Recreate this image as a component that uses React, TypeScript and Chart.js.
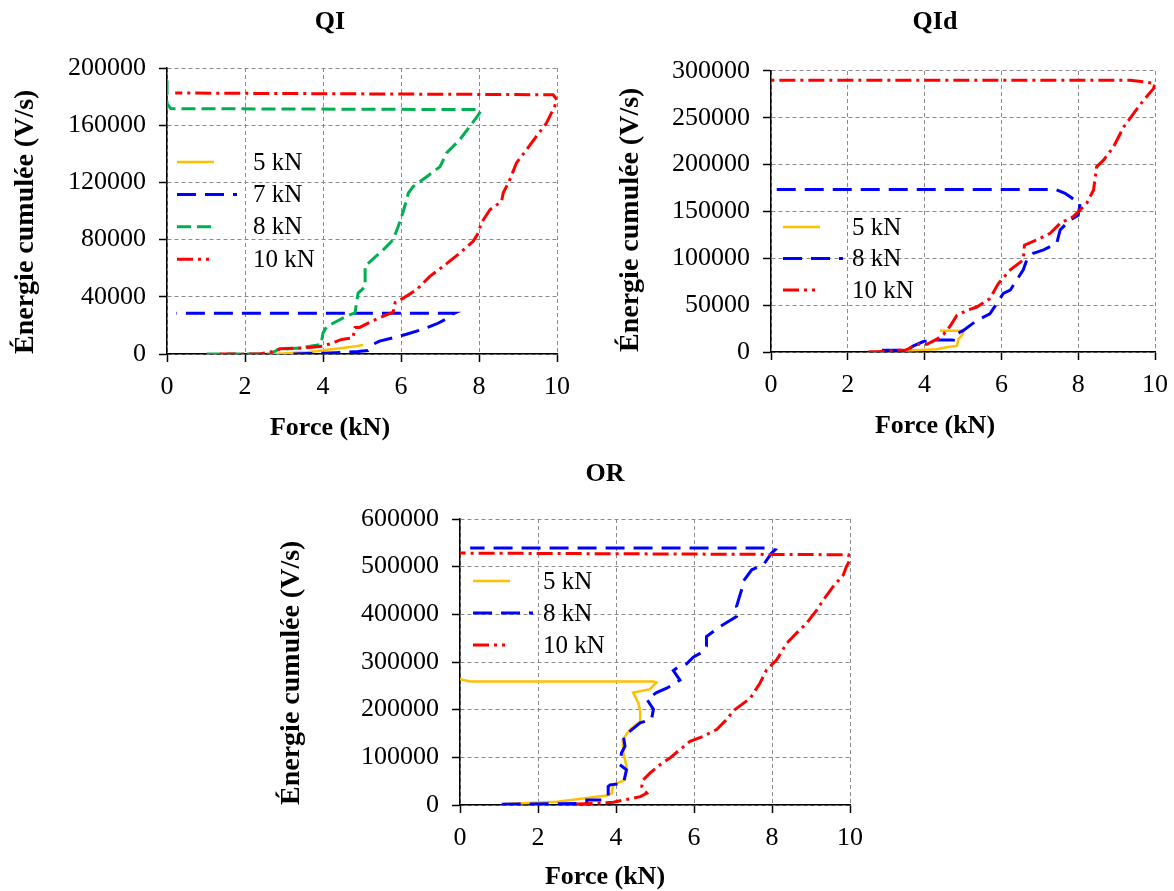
import React, { useEffect, useRef } from 'react';
import { Chart, registerables } from 'chart.js';

Chart.register(...registerables);

const FONT = "'Liberation Serif', 'Times New Roman', Times, serif";

// ---------------- Data ----------------
const xTickValues = [0, 2, 4, 6, 8, 10];
const qiYTicks = [0, 40000, 80000, 120000, 160000, 200000];
const qidYTicks = [0, 50000, 100000, 150000, 200000, 250000, 300000];
const orYTicks = [0, 100000, 200000, 300000, 400000, 500000, 600000];

const panelTitles = ['QI', 'QId', 'OR'];
const xAxisTitle = 'Force (kN)';
const yAxisTitle = 'Énergie cumulée (V/s)';

const qiLabels = ['5 kN', '7 kN', '8 kN', '10 kN'];
const qidLabels = ['5 kN', '8 kN', '10 kN'];
const orLabels = ['5 kN', '8 kN', '10 kN'];

// QI
const qi5F = [2.64, 3.0, 3.24, 3.6, 3.84, 4.1, 4.4, 4.6, 4.85, 5.03];
const qi5E = [0, 400, 800, 1300, 2000, 3000, 3800, 4500, 5500, 6300];
const qi7F = [3.24, 3.6, 4.0, 4.5, 4.9, 5.15, 5.2, 5.28, 5.45, 5.8, 6.14, 6.57, 6.91, 7.16, 7.33, 7.37, 0.24];
const qi7E = [0, 300, 600, 1200, 1800, 2400, 4000, 6700, 9000, 11400, 13800, 17400, 21000, 24500, 28000, 28500, 28500];
const qi8F = [1.02, 2.64, 2.85, 3.41, 3.95, 4.0, 4.1, 4.27, 4.52, 4.7, 4.82, 4.9, 5.0, 5.08, 5.08, 5.12, 5.55, 5.8, 5.93, 6.06, 6.19, 6.31, 6.66, 7.0, 7.17, 7.51, 7.76, 7.98, 8.04, 7.98, 0.1, 0.0, 0.0];
const qi8E = [0, 0, 3100, 4300, 6700, 14700, 19300, 21700, 25200, 27500, 28700, 42600, 45000, 47300, 61300, 62500, 73000, 80000, 89300, 99800, 112600, 117000, 124000, 131000, 140600, 150000, 159000, 167000, 169700, 170900, 171600, 175000, 194000];
const qi10F = [1.36, 2.37, 2.64, 2.9, 3.58, 4.0, 4.26, 4.48, 4.77, 4.82, 4.94, 5.28, 5.8, 5.85, 6.06, 6.4, 6.74, 7.08, 7.51, 7.85, 7.98, 8.06, 8.28, 8.58, 8.62, 8.79, 8.96, 9.22, 9.47, 9.73, 9.94, 10.0, 9.9, 0.21];
const qi10E = [0, 0, 1200, 3600, 4300, 5500, 7900, 10200, 11400, 18600, 18600, 23300, 29300, 36000, 39100, 45000, 54300, 61300, 70600, 78800, 84600, 91600, 100900, 106700, 112600, 121900, 133600, 142900, 152200, 161500, 173200, 177800, 181300, 182500];

// QId
const qid5F = [3.5, 4.32, 4.6, 4.84, 4.88, 5.0, 5.0, 4.4];
const qid5E = [1500, 2900, 5400, 6500, 13700, 19200, 22800, 22800];
const qid8F = [2.89, 3.54, 3.71, 3.97, 4.28, 4.75, 4.75, 5.0, 5.36, 5.7, 5.88, 6.05, 6.23, 6.4, 6.57, 6.66, 6.83, 7.1, 7.44, 7.53, 7.79, 8.0, 8.05, 7.96, 7.79, 7.66, 7.4, 0.0];
const qid8E = [1800, 1800, 6500, 11200, 12700, 12700, 17400, 22800, 33700, 40800, 51700, 62600, 66000, 77000, 87700, 98300, 105400, 109000, 116000, 130300, 141000, 146000, 158700, 160500, 165800, 169300, 173600, 173600];
const qid10F = [2.54, 2.76, 3.3, 3.5, 3.8, 4.06, 4.32, 4.5, 4.67, 4.84, 5.1, 5.36, 5.7, 5.92, 6.23, 6.57, 6.6, 6.92, 7.27, 7.53, 7.87, 8.05, 8.22, 8.4, 8.48, 8.66, 8.92, 9.18, 9.44, 9.7, 9.96, 10.0, 9.7, 9.35, 0.0];
const qid10E = [400, 400, 1800, 1800, 8300, 8300, 13700, 19200, 28000, 39000, 44500, 48000, 57000, 73000, 87700, 98300, 114000, 119600, 126700, 137400, 144500, 151600, 158700, 172900, 197700, 204800, 219000, 240000, 254500, 268700, 281200, 286500, 288500, 290000, 290000];

// OR
const or5F = [1.11, 2.48, 3.0, 3.76, 3.89, 3.93, 4.23, 4.27, 4.19, 4.17, 4.36, 4.62, 4.62, 4.57, 4.44, 4.87, 5.04, 4.96, 0.26, 0.0];
const or5E = [2100, 7000, 12000, 19700, 24600, 42200, 52800, 81000, 109100, 137300, 158400, 176000, 197100, 214700, 235800, 242900, 257000, 259000, 259000, 264000];
const or8F = [1.07, 3.25, 3.25, 3.68, 3.8, 3.8, 3.85, 4.19, 4.27, 4.1, 4.14, 4.23, 4.19, 4.36, 4.62, 4.91, 4.96, 4.79, 5.04, 5.3, 5.64, 5.47, 5.6, 5.81, 5.98, 6.2, 6.32, 6.32, 6.67, 7.09, 7.14, 7.09, 7.22, 7.26, 7.48, 7.78, 7.99, 8.08, 7.9, 0.26];
const or8E = [1400, 3500, 10600, 10600, 17600, 38700, 42200, 45800, 73900, 84500, 109100, 123200, 144300, 154900, 172500, 179500, 200600, 221800, 235800, 245000, 262000, 282000, 290000, 296000, 310000, 320000, 332500, 353500, 374500, 395500, 409500, 416500, 451500, 469000, 493500, 504000, 528500, 535500, 539000, 539000];
const or10F = [2.99, 3.5, 3.93, 4.19, 4.44, 4.62, 4.79, 4.66, 4.7, 4.87, 5.13, 5.38, 5.64, 5.9, 6.24, 6.58, 6.84, 7.0, 7.44, 7.69, 7.86, 8.12, 8.38, 8.63, 8.89, 9.15, 9.32, 9.57, 9.83, 9.91, 10.0, 9.96, 0.0];
const or10E = [2100, 3500, 5600, 10600, 14100, 17600, 24600, 38700, 52800, 66900, 84500, 98500, 116200, 133800, 144300, 158400, 179500, 197100, 224000, 255500, 283500, 304500, 339500, 360500, 381500, 409500, 430500, 458500, 483000, 500500, 514500, 525000, 528500];

// ---------------- Styles ----------------
const ORANGE = '#FFC000';
const BLUE = '#0000FF';
const GREEN = '#00B050';
const RED = '#FF0000';

type Style = { color: string; dash: number[]; width: number; sample: number };
const solidOrange: Style = { color: ORANGE, dash: [], width: 2.5, sample: 37 };
const longBlue: Style = { color: BLUE, dash: [19, 9], width: 3, sample: 60 };
const dashGreen: Style = { color: GREEN, dash: [14, 6], width: 3, sample: 36 };
const dotRed: Style = { color: RED, dash: [16, 5, 3, 5], width: 3, sample: 32 };

type Series = { label: string; F: number[]; E: number[]; style: Style };

type Spec = {
  title: string;
  PL: number; PR: number; PT: number; PB: number;
  TCX: number; TCY: number; XTY: number; YTX: number; T: number;
  yTicks: number[];
  series: Series[];
  legend: { left: number; textLeft: number; top: number; gap: number };
};

const specs: Spec[] = [
  {
    title: panelTitles[0], PL: 167, PR: 557, PT: 68, PB: 354, TCX: 330, TCY: 22, XTY: 428, YTX: 26, T: 0,
    yTicks: qiYTicks,
    series: [
      { label: qiLabels[0], F: qi5F, E: qi5E, style: solidOrange },
      { label: qiLabels[1], F: qi7F, E: qi7E, style: longBlue },
      { label: qiLabels[2], F: qi8F, E: qi8E, style: dashGreen },
      { label: qiLabels[3], F: qi10F, E: qi10E, style: dotRed },
    ],
    legend: { left: 10, textLeft: 86, top: 94, gap: 32.4 },
  },
  {
    title: panelTitles[1], PL: 771, PR: 1155, PT: 71, PB: 352, TCX: 935, TCY: 22, XTY: 426, YTX: 631, T: 0,
    yTicks: qidYTicks,
    series: [
      { label: qidLabels[0], F: qid5F, E: qid5E, style: solidOrange },
      { label: qidLabels[1], F: qid8F, E: qid8E, style: longBlue },
      { label: qidLabels[2], F: qid10F, E: qid10E, style: dotRed },
    ],
    legend: { left: 12, textLeft: 81, top: 156, gap: 31.5 },
  },
  {
    title: panelTitles[2], PL: 460, PR: 850, PT: 519, PB: 805, TCX: 605, TCY: 474, XTY: 877, YTX: 292, T: 440,
    yTicks: orYTicks,
    series: [
      { label: orLabels[0], F: or5F, E: or5E, style: solidOrange },
      { label: orLabels[1], F: or8F, E: or8E, style: longBlue },
      { label: orLabels[2], F: or10F, E: or10E, style: dotRed },
    ],
    legend: { left: 13, textLeft: 83, top: 62, gap: 32 },
  },
];

const TICK_SIZE = 26;
const TITLE_SIZE = 26;
const YTITLE_SIZE = 28;
const LEGEND_SIZE = 25;
const XH = 50;

function geometry(s: Spec) {
  const ytPad = 4;
  const L = Math.round(s.YTX - ytPad - (YTITLE_SIZE * 1.2) / 2);
  const yW = s.PL - L;
  const W = Math.round(2 * (s.TCX - L));
  const R = L + W - s.PR;
  const tlh = TITLE_SIZE * 1.2;
  const titleTop = s.TCY - s.T - tlh / 2;
  const titleBottom = s.PT - s.T - titleTop - tlh;
  const subTop = s.XTY - (s.PB + XH) - tlh / 2;
  const H = Math.round(s.PB - s.T + XH + subTop + tlh + 4);
  const subBottom = H - (s.PB - s.T + XH + subTop + tlh);
  return { L, yW, W, R, titleTop, titleBottom, subTop, subBottom, H, ytPad };
}

const inlineLegend = {
  id: 'inlineLegend',
  afterDatasetsDraw(chart: any, _args: any, opts: any) {
    const { ctx, chartArea } = chart;
    ctx.save();
    chart.data.datasets.forEach((ds: any, i: number) => {
      const y = chartArea.top + opts.top + i * opts.gap;
      const x0 = chartArea.left + opts.left;
      ctx.strokeStyle = ds.borderColor;
      ctx.lineWidth = ds.borderWidth;
      ctx.setLineDash(ds.borderDash || []);
      ctx.beginPath();
      ctx.moveTo(x0, y);
      ctx.lineTo(x0 + opts.samples[i], y);
      ctx.stroke();
      ctx.setLineDash([]);
      ctx.fillStyle = '#000';
      ctx.font = `${LEGEND_SIZE}px ${FONT}`;
      ctx.textAlign = 'left';
      ctx.textBaseline = 'middle';
      ctx.fillText(ds.label, chartArea.left + opts.textLeft, y + 1);
    });
    ctx.restore();
  },
};

function buildConfig(s: Spec, g: ReturnType<typeof geometry>): any {
  const n = s.series.length;
  const datasets = s.series.map((ser, i) => ({
    label: ser.label,
    data: ser.F.map((f, k) => ({ x: f, y: ser.E[k] })),
    borderColor: ser.style.color,
    backgroundColor: ser.style.color,
    borderWidth: ser.style.width,
    borderDash: ser.style.dash,
    pointRadius: 0,
    pointHoverRadius: 0,
    showLine: true,
    fill: false,
    tension: 0,
    order: n - i,
    xAxisID: 'x',
    yAxisID: 'y',
  }));
  const gridCommon = {
    color: '#8a8a8a',
    lineWidth: 1,
    drawTicks: true,
    tickLength: 8,
    tickColor: '#000',
    tickWidth: 1.5,
  };
  const borderCommon = { display: true, color: '#000', width: 1.5, dash: [4, 3] };
  return {
    type: 'scatter',
    data: { datasets },
    plugins: [inlineLegend],
    options: {
      responsive: false,
      maintainAspectRatio: false,
      animation: false,
      devicePixelRatio: 1,
      layout: { padding: 0 },
      scales: {
        x: {
          type: 'linear',
          position: 'bottom',
          min: xTickValues[0],
          max: xTickValues[xTickValues.length - 1],
          afterBuildTicks: (sc: any) => { sc.ticks = xTickValues.map((v) => ({ value: v })); },
          afterFit: (sc: any) => { sc.height = XH; },
          grid: gridCommon,
          border: borderCommon,
          ticks: { color: '#000', padding: 10, font: { family: FONT, size: TICK_SIZE }, maxRotation: 0, autoSkip: false },
        },
        y: {
          type: 'linear',
          position: 'left',
          min: s.yTicks[0],
          max: s.yTicks[s.yTicks.length - 1],
          afterBuildTicks: (sc: any) => { sc.ticks = s.yTicks.map((v) => ({ value: v })); },
          afterFit: (sc: any) => { sc.width = g.yW; },
          grid: gridCommon,
          border: borderCommon,
          ticks: {
            color: '#000', padding: 13, font: { family: FONT, size: TICK_SIZE }, autoSkip: false,
            callback: (v: any) => String(v),
          },
          title: {
            display: true,
            align: 'start',
            text: yAxisTitle,
            color: '#000',
            font: { family: FONT, size: YTITLE_SIZE, weight: 'bold' },
            padding: { top: g.ytPad, bottom: 0 },
          },
        },
        yR: {
          type: 'linear',
          position: 'right',
          display: true,
          grid: { display: false, drawTicks: false },
          border: { display: false },
          ticks: { display: false },
          afterFit: (sc: any) => { sc.width = g.R; },
        },
      },
      plugins: {
        legend: { display: false },
        tooltip: { enabled: false },
        title: {
          display: true,
          text: s.title,
          color: '#000',
          font: { family: FONT, size: TITLE_SIZE, weight: 'bold' },
          padding: { top: g.titleTop, bottom: g.titleBottom },
        },
        subtitle: {
          display: true,
          position: 'bottom',
          text: xAxisTitle,
          color: '#000',
          font: { family: FONT, size: TITLE_SIZE, weight: 'bold' },
          padding: { top: g.subTop, bottom: g.subBottom },
        },
        inlineLegend: {
          left: s.legend.left,
          textLeft: s.legend.textLeft,
          top: s.legend.top,
          gap: s.legend.gap,
          samples: s.series.map((ser) => ser.style.sample),
        },
      },
    },
  };
}

function Panel({ spec }: { spec: Spec }) {
  const ref = useRef<HTMLCanvasElement>(null);
  const g = geometry(spec);
  useEffect(() => {
    if (!ref.current) return;
    const chart = new Chart(ref.current, buildConfig(spec, g));
    return () => chart.destroy();
  }, []);
  return (
    <canvas
      ref={ref}
      width={g.W}
      height={g.H}
      style={{ position: 'absolute', left: g.L, top: spec.T, width: g.W, height: g.H, display: 'block' }}
    />
  );
}

export default function App() {
  return (
    <div
      style={{
        position: 'absolute',
        left: 0,
        top: 0,
        width: 1174,
        height: 891,
        overflow: 'hidden',
        background: '#fff',
      }}
    >
      {specs.map((s) => (
        <Panel key={s.title} spec={s} />
      ))}
    </div>
  );
}
